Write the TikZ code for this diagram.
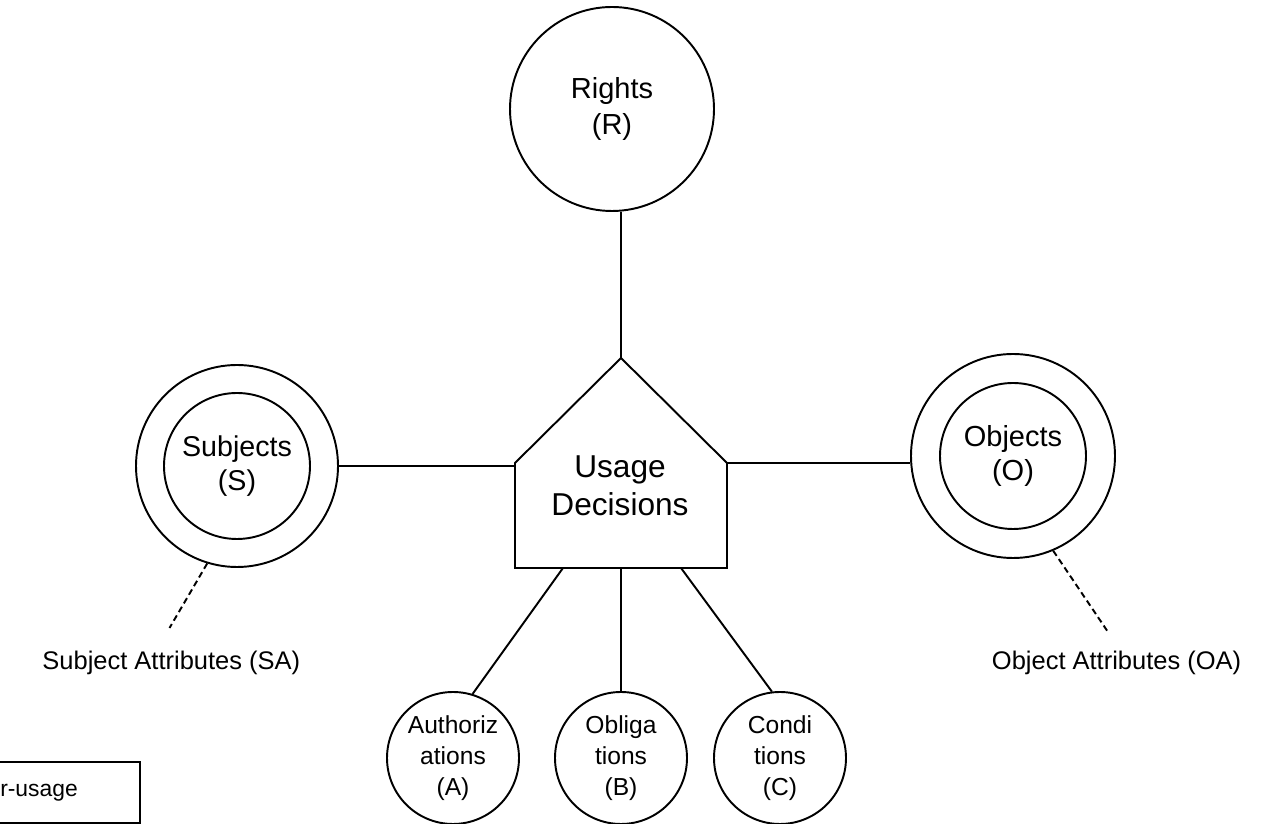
\documentclass[tikz,border=0pt]{standalone}
\usepackage{fontspec}
\setmainfont{Liberation Sans}
\usetikzlibrary{calc}

\begin{document}
\begin{tikzpicture}[line width=1.1pt,
  ring/.style={circle, draw, inner sep=0pt},
  bigtext/.style={font=\fontsize{16.5}{20}\selectfont, align=center},
  smalltext/.style={font=\fontsize{14}{17.5}\selectfont, align=center},
  attrline/.style={dash pattern=on 3.5pt off 2.2pt},
  attrtext/.style={anchor=base east, font=\fontsize{14.5}{17}\selectfont}]
\useasboundingbox (0,0) rectangle (25.42,16.48);
\clip (0,0) rectangle (25.42,16.48);
% usage decisions (house shape)
\coordinate (apex) at (12.42,9.32);
\coordinate (lsh) at (10.30,7.22);
\coordinate (rsh) at (14.54,7.22);
\coordinate (lbot) at (10.30,5.12);
\coordinate (rbot) at (14.54,5.12);
\draw (apex) -- (rsh) -- (rbot) -- (lbot) -- (lsh) -- cycle;
\node[font=\fontsize{18}{21.6}\selectfont, align=center] (ud) at (12.40,6.76) {Usage\\Decisions};
% rights
\node[ring, minimum size=4.08cm, bigtext] (rights) at (12.24,14.30) {Rights\\(R)};
\draw (apex) -- (apex |- rights.south);
% subjects and objects
\node[ring, minimum size=4.04cm] (subjout) at (4.74,7.16) {};
\node[ring, minimum size=2.92cm, font=\fontsize{16.3}{19.5}\selectfont, align=center] (subj) at (4.74,7.16) {Subjects\\(S)};
\node[ring, minimum size=4.08cm] (objout) at (20.26,7.36) {};
\node[ring, minimum size=2.92cm, font=\fontsize{16.5}{19.5}\selectfont, align=center] (obj) at (20.26,7.36) {Objects\\(O)};
\draw (subjout.east) -- (subjout.east -| lsh);
\draw (objout.184.5) -- (objout.184.5 -| rsh);
% attributes
\coordinate (saend) at (3.39,3.92);
\coordinate (oaend) at (22.16,3.84);
\draw[attrline] (subjout.253) -- (saend);
\draw[attrline] (objout.293) -- (oaend);
\node[attrtext] (sa) at (6.14,3.08) {Subject Attributes (SA)};
\node[attrtext] (oa) at (24.96,3.08) {Object Attributes (OA)};
% authorizations, obligations, conditions
\foreach \nm/\x/\txt in {auth/9.06/{Authoriz\\ations\\(A)}, oblig/12.42/{Obliga\\tions\\(B)}, cond/15.60/{Condi\\tions\\(C)}}
  \node[ring, minimum size=2.64cm, smalltext] (\nm) at (\x,1.32) {\txt};
\coordinate (ba) at (11.26,5.12);
\coordinate (bb) at (12.42,5.12);
\coordinate (bc) at (13.62,5.12);
\draw (ba) -- (auth.73);
\draw (bb) -- (oblig.north);
\draw (bc) -- (cond.97);
% phase box
\node[draw, minimum width=4.04cm, minimum height=1.22cm, font=\fontsize{13}{15}\selectfont] (phase) at (0.78,0.63) {r-usage};
\end{tikzpicture}
\end{document}
